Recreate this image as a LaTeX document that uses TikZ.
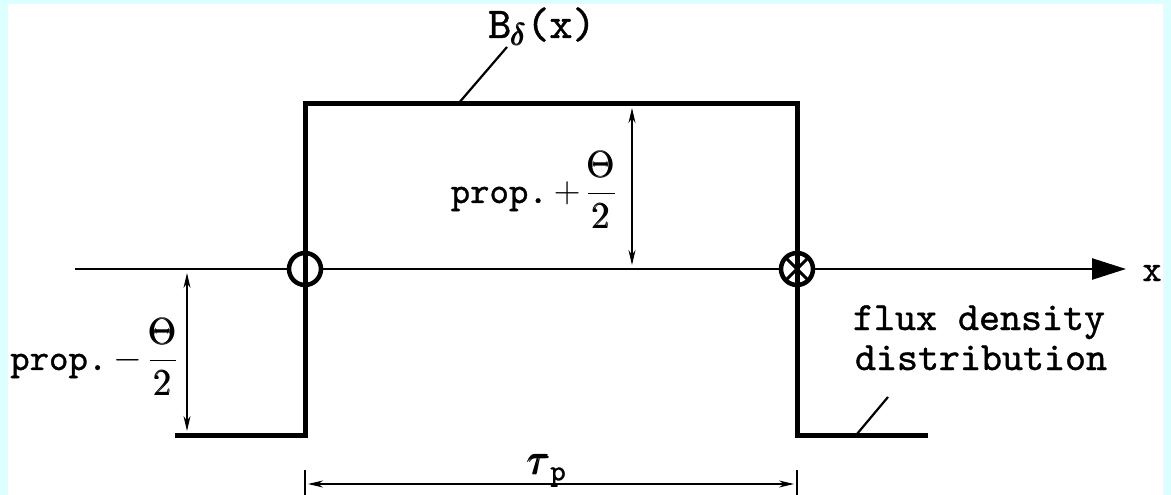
\RequirePackage{fix-cm}
\documentclass[tikz,border=0pt]{standalone}
\usepackage{amsmath}
\usepackage{fontspec}
\newfontfamily\lblfont{lmmono10-regular.otf}[FakeBold=1.0]
\usetikzlibrary{arrows.meta}
\definecolor{framecyan}{RGB}{220,255,255}
\tikzset{
  thickline/.style={line width=5pt, line join=miter},
  axisline/.style={line width=2.4pt},
  dimline/.style={line width=2pt, {Stealth[length=15pt,width=7pt]}-{Stealth[length=15pt,width=7pt]}},
  leader/.style={line width=2.2pt},
  conductor/.style={circle, draw, line width=4.5pt, fill=white, minimum size=32pt, inner sep=0pt},
  lbl/.style={font=\lblfont\fontsize{37}{40}\selectfont, inner sep=0pt},
}
\begin{document}
\begin{tikzpicture}[x=1pt,y=-1pt]
\useasboundingbox (0,0) rectangle (1171,495);
\fill[white] (0,0) rectangle (1171,495);
% key points
\coordinate (axL) at (75,269);
\coordinate (axR) at (1126,269);
\coordinate (LL) at (175,435);
\coordinate (BL) at (305,435);
\coordinate (TL) at (305,104);
\coordinate (TR) at (797,104);
\coordinate (BR) at (797,435);
\coordinate (RR) at (928,435);
% axis
\draw[axisline, -{Triangle[length=34pt,width=21pt]}] (axL) -- (axR);
% conductors
\node[conductor] (o1) at (305,269) {};
\node[conductor] (o2) at (797,269) {};
% flux density distribution
\draw[thickline] (LL) -- (BL) -- (TL) -- (TR) -- (BR) -- (RR);
\draw[line width=3pt, shorten <=1pt, shorten >=1pt] (o2.north east) -- (o2.south west);
\draw[line width=3pt, shorten <=1pt, shorten >=1pt] (o2.north west) -- (o2.south east);
% labels
\node[lbl, font=\lblfont\fontsize{44}{48}\selectfont, anchor=base west] (B) at (488,38) {B$_{\pmb{\delta}}$(x)};
\node[lbl, anchor=east] (pp) at (616,190) {prop.$\,+\,\displaystyle\frac{\pmb{\Theta}}{\pmb{2}}$};
\node[lbl, anchor=west] (pm) at (10,357) {prop.$\,-\,\displaystyle\frac{\pmb{\Theta}}{\pmb{2}}$};
\node[lbl, font=\lblfont\fontsize{40}{44}\selectfont, anchor=base, text depth=1pt] (flux1) at (979,330) {flux density};
\node[lbl, font=\lblfont\fontsize{40}{44}\selectfont, anchor=base] (flux2) at (981,370) {distribution};
\node[lbl, anchor=base] (xl) at (1152,281) {x};
\node[lbl, font=\lblfont\fontsize{42}{46}\selectfont, anchor=base] (tau) at (547,474) {$\pmb{\tau}_{\text{\lblfont p}}$};
% leaders
\coordinate (bl1) at (458,104);
\coordinate (bl2) at (507,47);
\draw[leader] (bl1) -- (bl2);
\coordinate (fl1) at (857,434);
\coordinate (fl2) at (888,397);
\draw[leader] (fl1) -- (fl2);
% dimension arrows
\coordinate (dt1) at (632,108);
\coordinate (dt2) at (632,265);
\draw[dimline] (dt1) -- (dt2);
\coordinate (dl1) at (187,273);
\coordinate (dl2) at (187,431);
\draw[dimline] (dl1) -- (dl2);
\coordinate (db1) at (308,484);
\coordinate (db2) at (794,484);
\draw[dimline] (db1) -- (db2);
\coordinate (tk1a) at (305,470);
\coordinate (tk1b) at (305,495);
\coordinate (tk2a) at (797,470);
\coordinate (tk2b) at (797,495);
\draw[line width=2pt] (tk1a) -- (tk1b);
\draw[line width=2pt] (tk2a) -- (tk2b);
% cyan frame
\fill[framecyan] (0,0) rectangle (8,495);
\fill[framecyan] (1163,0) rectangle (1171,495);
\fill[framecyan] (0,0) rectangle (1171,4);
\end{tikzpicture}
\end{document}
